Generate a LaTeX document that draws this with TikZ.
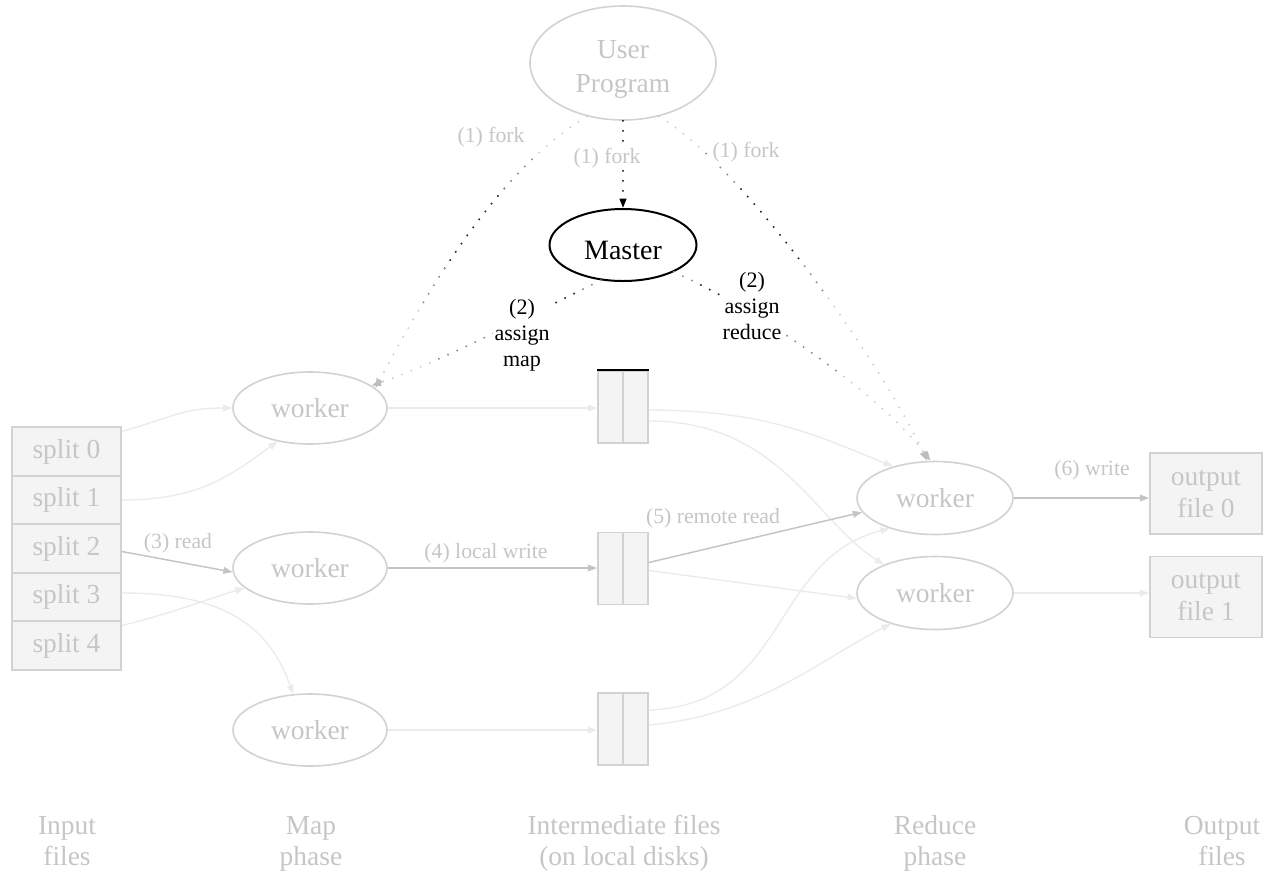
\documentclass[tikz,border=0pt]{standalone}
\usepackage{fontspec}
\setmainfont{Liberation Serif}
\usetikzlibrary{shapes.geometric,arrows.meta,calc}

\definecolor{inkline}{HTML}{D2D2D2}
\definecolor{inktext}{HTML}{C6C6C6}
\definecolor{boxfill}{HTML}{F4F4F4}
\definecolor{edgedark}{HTML}{C4C4C4}
\definecolor{edgelight}{HTML}{EBEBEB}
\definecolor{dotpale}{HTML}{C8C8C8}
\definecolor{dotmid}{HTML}{8C8C8C}
\definecolor{dotdeep}{HTML}{2A2A2A}
\definecolor{tipgray}{HTML}{BDBDBD}

% curves of the fork and assignment edges
\newcommand\pathForkL{(up.236) .. controls (495,172) and (425,295) .. (w1.17)}
\newcommand\pathForkR{(up.304) .. controls (750,172) and (885,370) .. (r0.102)}
\newcommand\pathAsgnM{(m.238) .. controls (520,320) and (440,362) .. (w1.20)}
\newcommand\pathAsgnR{(m.-28) .. controls (770,315) and (885,400) .. (r0.97)}

\begin{document}
\begin{tikzpicture}[x=0.75pt,y=-0.75pt,
  bigtext/.style={font=\rmfamily\fontsize{20.6pt}{24pt}\selectfont, text=inktext},
  worker/.style={ellipse, draw=inkline, line width=1.2pt, minimum width=115.5pt,
                 minimum height=54pt, inner sep=0pt, bigtext},
  splitbox/.style={rectangle, draw=inkline, fill=boxfill, line width=1.2pt,
                 minimum width=81.75pt, minimum height=36.4pt, inner sep=0pt, bigtext},
  ifile/.style={rectangle, draw=inkline, fill=boxfill, line width=1.2pt,
                 minimum width=37.5pt, minimum height=54pt, inner sep=0pt},
  ofile/.style={rectangle, draw=inkline, fill=boxfill, line width=1.2pt,
                 minimum width=84pt, minimum height=60.75pt, inner sep=0pt,
                 align=center, font=\rmfamily\fontsize{20.6pt}{24pt}\selectfont, text=inktext},
  phase/.style={align=center, font=\rmfamily\fontsize{20.6pt}{23pt}\selectfont, text=inktext},
  elabel/.style={font=\rmfamily\fontsize{16.3pt}{17pt}\selectfont, text=inktext, inner sep=1pt},
  blabel/.style={font=\rmfamily\fontsize{16.5pt}{19.5pt}\selectfont, text=black, align=center,
                 inner sep=1pt, fill=white},
  tip/.style={-{Triangle[length=7pt,width=5pt]}},
  lite/.style={draw=edgelight, line width=1pt, tip},
  dark/.style={draw=edgedark, line width=1.1pt, tip},
  dots/.style={line width=1.5pt, line cap=round, dash pattern=on 0pt off 7.5pt},
  dotted edge/.style={dots, draw=dotpale,
                 -{Triangle[length=7pt,width=5pt,color=tipgray]}}
]
\useasboundingbox (0,0) rectangle (1264,872);
\fill[white] (0,0) rectangle (1264,872);

% user program and master
\node[ellipse, draw=inkline, line width=1.2pt, minimum width=139.5pt, minimum height=85.5pt,
      inner sep=0pt, align=center, font=\rmfamily\fontsize{20.6pt}{25.1pt}\selectfont, text=inktext]
      (up) at (623,63) {\rule{0pt}{22.9pt}User\\Program};
\node[ellipse, draw=black, line width=1.5pt, minimum width=110.25pt, minimum height=54pt,
      inner sep=0pt, text height=21.4pt, text depth=0pt,
      font=\rmfamily\fontsize{21pt}{24pt}\selectfont] (m) at (623,245) {Master};

% input splits
\node[splitbox] (s0) at (66.5,451.5) {split 0};
\node[splitbox] (s1) at (66.5,500)   {split 1};
\node[splitbox] (s2) at (66.5,548.5) {split 2};
\node[splitbox] (s3) at (66.5,597)   {split 3};
\node[splitbox] (s4) at (66.5,645.5) {split 4};

% map workers
\node[worker] (w1) at (310,408) {worker};
\node[worker] (w2) at (310,568) {worker};
\node[worker] (w3) at (310,730) {worker};

% intermediate files
\node[ifile] (b1) at (623,407) {};
\node[ifile] (b2) at (623,568.5) {};
\node[ifile] (b3) at (623,729) {};
\foreach \b in {b1,b2,b3}
  \draw[inkline, line width=1.2pt] (\b.north) -- (\b.south);
\draw[black, line width=1.4pt] (b1.north west) -- (b1.north east);

% reduce workers
\node[worker, minimum width=117pt, minimum height=54.75pt] (r0) at (935,498) {worker};
\node[worker, minimum width=117pt, minimum height=54.75pt] (r1) at (935,593) {worker};

% output files
\node[ofile] (o0) at (1206,493.5) {output\\file 0};
\node[ofile] (o1) at (1206,597)   {output\\file 1};

% phase captions
\node[phase] (pin)  at (67,844)  {Input\strut\\files\strut};
\node[phase] (pmap) at (311,844) {Map\strut\\phase\strut};
\node[phase] (pint) at (624,844) {Intermediate files\strut\\(on local disks)\strut};
\node[phase] (pred) at (935,844) {Reduce\strut\\phase\strut};
\node[phase] (pout) at (1222,844){Output\strut\\files\strut};

% split -> map worker
\draw[lite] ($(s0.north east)+(0,5)$) .. controls +(50,-14) and +(-50,0) .. (w1.west);
\draw[lite] (s1.east) .. controls +(80,0) and +(-45,32) .. (w1.226);
\draw[dark] ($(s2.east)+(0,3)$) -- (w2.183);
\draw[lite] ($(s3.east)+(0,-4)$) .. controls +(100,0) and +(-25,-70) .. (w3.115);
\draw[lite] ($(s4.north east)+(0,5)$) .. controls +(50,-12) and +(-40,12) .. (w2.197);

% map worker -> intermediate file
\draw[lite] (w1.east) -- (b1.west |- w1.east);
\draw[dark] (w2.east) -- (b2.west |- w2.east);
\draw[lite] (w3.east) -- (b3.west |- w3.east);

% intermediate file -> reduce worker
\draw[lite] ($(b1.east)+(0,3)$) .. controls +(120,0) and +(-70,-28) .. (r0.143);
\draw[lite] ($(b1.east)+(0,14)$) .. controls +(130,0) and +(-70,-45) .. (r1.151);
\draw[dark] ($(b2.east)+(0,-6)$) -- (r0.191);
\draw[lite] ($(b2.east)+(0,2)$) -- (r1.184);
\draw[lite] ($(b3.east)+(0,-19)$) .. controls +(140,-5) and +(-120,30) .. (r0.214);
\draw[lite] ($(b3.east)+(0,-4)$) .. controls +(110,-10) and +(-70,35) .. (r1.215);

% reduce worker -> output file
\draw[dark] (r0.east) -- (o0.west |- r0.east);
\draw[lite] (r1.east) -- (o1.west |- r1.east);

% fork and assignment edges: pale dots, darker towards the middle of each curve
\draw[dotted edge] \pathForkL;
\draw[dotted edge] \pathForkR;
\draw[dotted edge] \pathAsgnM;
\draw[dotted edge] \pathAsgnR;
\begin{scope}
  \clip (470,225) circle [radius=95];
  \draw[dots, draw=dotmid] \pathForkL;
\end{scope}
\begin{scope}
  \clip (470,225) circle [radius=50];
  \draw[dots, draw=dotdeep] \pathForkL;
\end{scope}
\begin{scope}
  \clip (775,215) circle [radius=95];
  \draw[dots, draw=dotmid] \pathForkR;
\end{scope}
\begin{scope}
  \clip (775,215) circle [radius=50];
  \draw[dots, draw=dotdeep] \pathForkR;
\end{scope}
\begin{scope}
  \clip (520,318) circle [radius=95];
  \draw[dots, draw=dotmid] \pathAsgnM;
\end{scope}
\begin{scope}
  \clip (540,305) circle [radius=45];
  \draw[dots, draw=dotdeep] \pathAsgnM;
\end{scope}
\begin{scope}
  \clip (760,318) circle [radius=95];
  \draw[dots, draw=dotmid] \pathAsgnR;
\end{scope}
\begin{scope}
  \clip (735,300) circle [radius=45];
  \draw[dots, draw=dotdeep] \pathAsgnR;
\end{scope}
\draw[dots, draw=black, -{Triangle[length=7pt,width=5pt,color=black]}] (up.south) -- (m.north);

% edge labels
\node[elabel, fill=white] (lf1) at (491,137) {(1) fork};
\node[elabel, fill=white] (lf2) at (607,158) {(1) fork};
\node[elabel, fill=white] (lf3) at (746,152) {(1) fork};
\node[blabel] (la1) at (522,335) {(2)\\assign\\map};
\node[blabel] (la2) at (752,306) {(2)\\assign\\reduce};
\node[elabel] (lr)  at (178,543) {(3) read};
\node[elabel] (lw)  at (486,553) {(4) local write};
\node[elabel] (lrr) at (713,518) {(5) remote read};
\node[elabel] (lo)  at (1092,470){(6) write};
\end{tikzpicture}
\end{document}
